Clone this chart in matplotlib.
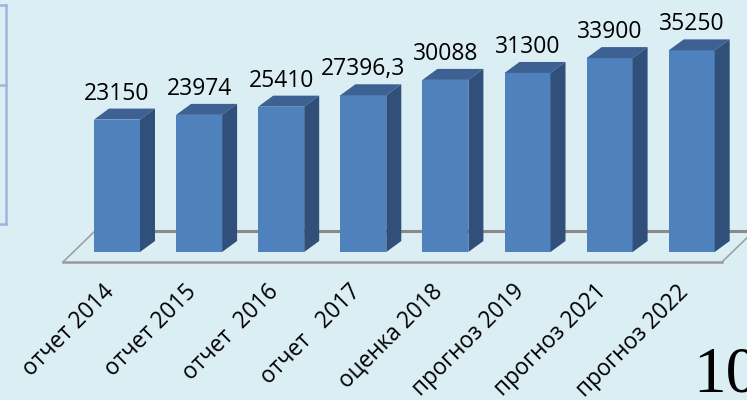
import matplotlib
matplotlib.use('Agg')
import matplotlib.pyplot as plt
from matplotlib.patches import Polygon
from matplotlib.lines import Line2D
import numpy as np

# data
categories = ['отчет 2014', 'отчет 2015', 'отчет  2016', 'отчет   2017',
              'оценка 2018', 'прогноз 2019', 'прогноз 2021', 'прогноз 2022']
values = [23150, 23974, 25410, 27396.3, 30088, 31300, 33900, 35250]
value_labels = ['23150', '23974', '25410', '27396,3', '30088', '31300', '33900', '35250']

W, H = 747, 400
bg = '#dbeef4'
front = '#4f81bd'
top_c = '#3d6192'
side_c = '#30507a'

fig = plt.figure(figsize=(W / 100, H / 100), dpi=100)
fig.patch.set_facecolor(bg)
ax = fig.add_axes([0, 0, 1, 1])
ax.axis('off')

# pixel scale of the chart
px_x = 82.1       # px per category
x0 = 117          # px of first category centre
px_y = 0.00572    # px per unit
y0 = 148          # px (from bottom) of zero line
ax.set_xlim(-x0 / px_x, (W - x0) / px_x)
ax.set_ylim(-y0 / px_y, (H - y0) / px_y)

def ux(p):
    return p / px_x

def uy(p):
    return p / px_y

dx, dy = ux(15), uy(11)   # depth of the 3d boxes

# floor
fl, fr = ux(63 - x0), ux(722 - x0)
yf, yb = uy(-10), uy(21)
sh = ux(32)
ax.plot([fl + sh, fr + sh], [yb, yb], color='#8a8a8a', lw=2.2, zorder=1)
ax.plot([fl, fr], [yf, yf], color='#9a9a9a', lw=1.8, zorder=1)
ax.plot([fl, fl + sh], [yf, yb], color='#a0a0a0', lw=1.2, zorder=1)
ax.plot([fr, fr + sh], [yf, yb], color='#a0a0a0', lw=1.2, zorder=1)

x = np.arange(len(values))
bars = ax.bar(x, values, width=ux(46), color=front, zorder=3)

for b in bars:
    l = b.get_x()
    r = l + b.get_width()
    h = b.get_height()
    ax.add_patch(Polygon([(l, h), (r, h), (r + dx, h + dy), (l + dx, h + dy)],
                         closed=True, facecolor=top_c, edgecolor='none', zorder=3))
    ax.add_patch(Polygon([(r, 0), (r + dx, dy), (r + dx, h + dy), (r, h)],
                         closed=True, facecolor=side_c, edgecolor='none', zorder=3))

pt = 72 / 100
for xi, v, lab in zip(x, values, value_labels):
    ax.annotate(lab, xy=(xi, v), xytext=(0, 20 * pt), textcoords='offset points',
                ha='center', va='baseline', fontsize=16.5, family='Open Sans',
                color='black')

for xi, cat in zip(x, categories):
    ax.annotate(cat, xy=(xi, 0), xytext=(-15 * pt, -28 * pt), textcoords='offset points',
                ha='right', va='top', rotation=45, rotation_mode='anchor',
                fontsize=16.3, family='Open Sans', color='black')

# page number
fig.text(693 / W, 8 / H, '10', family='Liberation Serif', fontsize=47,
         ha='left', va='baseline', color='black')

# edge of neighbouring box on the slide
bc = '#9db5dc'
fig.add_artist(Line2D([6 / W, 6 / W], [1 - 5 / H, 1 - 224 / H], color=bc, lw=1.8))
for yy in [5, 85, 224]:
    fig.add_artist(Line2D([0, 6 / W], [1 - yy / H, 1 - yy / H], color=bc, lw=1.8))

fig.savefig('out.png', dpi=100, facecolor=bg)
